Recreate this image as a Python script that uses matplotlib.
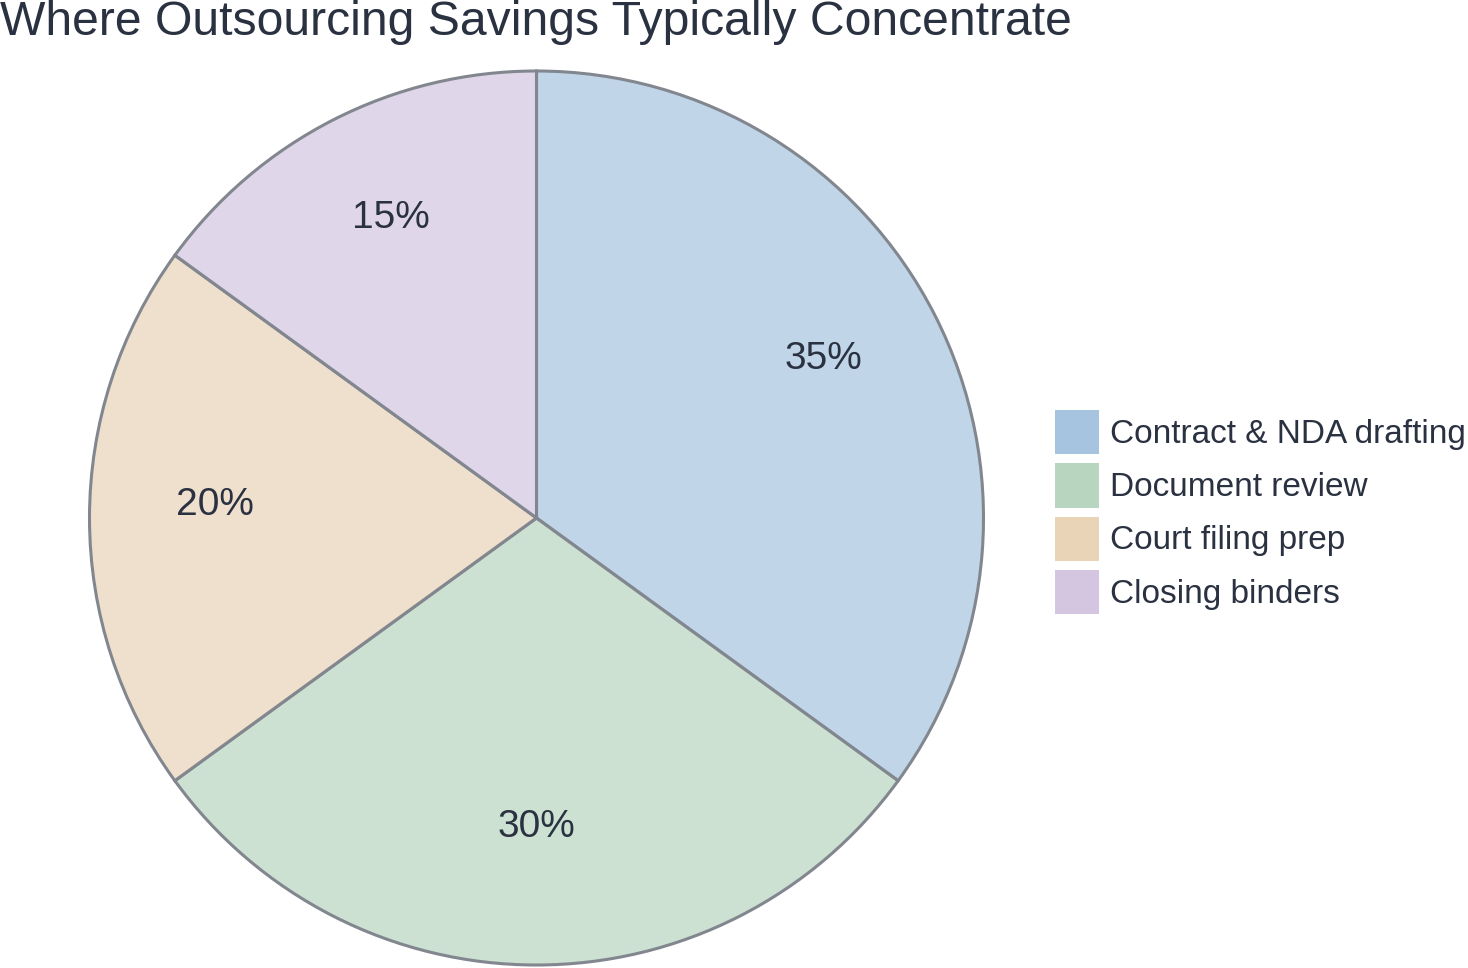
import matplotlib.pyplot as plt
from matplotlib.colors import to_rgba

labels = ['Contract & NDA drafting', 'Document review', 'Court filing prep', 'Closing binders']
shares = [35, 30, 20, 15]
colors = ['#a6c4df', '#b8d5c0', '#e9d4b8', '#d4c5e0']
text_color = '#2a3140'

plt.rcParams['font.family'] = ['Liberation Sans', 'DejaVu Sans']

fig = plt.figure(figsize=(14.68, 9.68), dpi=100)
# pie centre ~ (536, 518) px, radius ~ 447 px
r = 447
cx, cy = 536.5, 968 - 518
ax = fig.add_axes([(cx - r) / 1468, (cy - r) / 968, 2 * r / 1468, 2 * r / 968])

face = [to_rgba(c, 0.7) for c in colors]
wedges, texts, autotexts = ax.pie(
    shares, colors=face, startangle=90, counterclock=False,
    autopct='%d%%', pctdistance=0.72,
    wedgeprops=dict(edgecolor='#82878f', linewidth=2.2),
    textprops=dict(color=text_color, fontsize=28))
for t in autotexts:
    x, y = t.get_position()
    t.set_position((x, y + 13 / r))
ax.set_xlim(-1, 1)
ax.set_ylim(-1, 1)
ax.set_aspect('equal')
ax.axis('off')

fig.text(0.0, 1 - 35 / 968, 'Where Outsourcing Savings Typically Concentrate',
         fontsize=34.7, color=text_color, ha='left', va='baseline')

handles = [plt.Rectangle((0, 0), 1, 1, facecolor=c, edgecolor='none') for c in colors]
fig.legend(handles, labels, loc='center left', bbox_to_anchor=(1055 / 1468, 1 - 512 / 968),
           frameon=False, fontsize=24, labelcolor=text_color,
           handlelength=1.32, handleheight=1.66, handletextpad=0.33,
           labelspacing=0.27, borderpad=0, borderaxespad=0)

fig.savefig('out.png', dpi=100)
